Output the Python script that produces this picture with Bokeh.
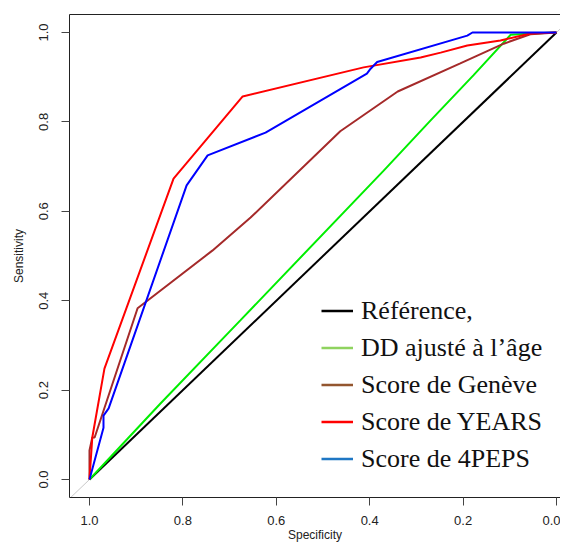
import numpy as np
from bokeh.plotting import figure
from bokeh.models import Range1d, FixedTicker, NumeralTickFormatter, LinearAxis, Legend, LegendItem
from bokeh.core.properties import value
from bokeh.embed import file_html
from bokeh.resources import INLINE

# ---- data (specificity, sensitivity) ----
ref_spec = [1.0, 0.0]
ref_sens = [0.0, 1.0]

dd_spec = [1.0, 0.848, 0.677, 0.370, 0.270, 0.178, 0.098, 0.05, 0.0]
dd_sens = [0.0, 0.170, 0.356, 0.691, 0.803, 0.904, 0.995, 0.998, 1.0]

gen_spec = [1.0, 1.0, 0.994, 0.989, 0.897, 0.737, 0.655, 0.463, 0.340, 0.206, 0.113, 0.056, 0.0]
gen_sens = [0.0, 0.065, 0.094, 0.094, 0.383, 0.512, 0.586, 0.779, 0.868, 0.931, 0.975, 0.996, 1.0]

years_spec = [1.0, 0.994, 0.968, 0.820, 0.672, 0.413, 0.291, 0.248, 0.191, 0.120, 0.056, 0.0]
years_sens = [0.0, 0.094, 0.248, 0.673, 0.857, 0.922, 0.944, 0.955, 0.971, 0.982, 0.998, 1.0]

peps_spec = [1.0, 0.970, 0.970, 0.959, 0.792, 0.747, 0.623, 0.406, 0.398, 0.384, 0.191, 0.180, 0.0]
peps_sens = [0.0, 0.116, 0.143, 0.159, 0.658, 0.725, 0.776, 0.908, 0.919, 0.934, 0.993, 1.0, 1.0]

diag_spec = [1.2, -0.2]
diag_sens = [-0.2, 1.2]

legend_labels = ["Référence,", "DD ajusté à l’âge", "Score de Genève", "Score de YEARS", "Score de 4PEPS"]
legend_colors = ["#000000", "#8fd35f", "#93562f", "#ff0000", "#1f77c4"]

ticks = [0.0, 0.2, 0.4, 0.6, 0.8, 1.0]
x_title = "Specificity"
y_title = "Sensitivity"

p = figure(width=560, height=545, output_backend="svg", toolbar_location=None,
           x_range=Range1d(1.0428, -0.0086), y_range=Range1d(-0.0403, 1.0403),
           min_border_left=69, min_border_top=14, min_border_bottom=48, min_border_right=0)
p.grid.visible = False
p.outline_line_color = None
p.background_fill_color = "white"
p.border_fill_color = "white"

for ax in (p.xaxis[0], p.yaxis[0]):
    ax.ticker = FixedTicker(ticks=ticks)
    ax.formatter = NumeralTickFormatter(format="0.0")
    ax.minor_tick_line_color = None
    ax.major_tick_in = 0
    ax.major_tick_out = 8
    ax.major_tick_line_color = "#444444"
    ax.axis_line_color = "#222222"
    ax.major_label_text_font = "Liberation Sans"
    ax.major_label_text_font_size = "13px"
    ax.major_label_text_color = "#222222"
    ax.axis_label_text_font = "Liberation Sans"
    ax.axis_label_text_font_size = "12px"
    ax.axis_label_text_font_style = "normal"
    ax.axis_label_text_color = "#222222"

p.xaxis.axis_label = x_title
p.yaxis.axis_label = y_title
p.yaxis.major_label_orientation = "vertical"
p.xaxis.major_label_standoff = 10
p.xaxis.axis_label_standoff = 0
p.yaxis.major_label_standoff = 13
p.yaxis.axis_label_standoff = 11

top = LinearAxis(ticker=FixedTicker(ticks=[]), major_label_text_font_size="0px",
                 axis_line_color="#222222", major_tick_line_color=None,
                 minor_tick_line_color=None, major_label_standoff=0)
p.add_layout(top, "above")

p.line(diag_spec, diag_sens, line_color="#c8c8c8", line_width=1)
p.line(ref_spec, ref_sens, line_color="black", line_width=2)
p.line(dd_spec, dd_sens, line_color="#00ee00", line_width=2)
p.line(gen_spec, gen_sens, line_color="#a52a2a", line_width=2)
p.line(years_spec, years_sens, line_color="#ff0000", line_width=2)
p.line(peps_spec, peps_sens, line_color="#0000ff", line_width=2)

items = []
for lab, col in zip(legend_labels, legend_colors):
    r = p.line([np.nan], [np.nan], line_color=col, line_width=2.5)
    items.append(LegendItem(label=value(lab), renderers=[r]))

leg = Legend(items=items, location=(252, 20), orientation="vertical",
             border_line_color=None, background_fill_alpha=0,
             label_text_font="Liberation Serif", label_text_font_size="26px",
             label_text_color="#111111",
             glyph_width=32, glyph_height=37, label_height=37, label_standoff=8,
             spacing=0, padding=0, margin=0)
p.add_layout(leg)

open("out.html", "w").write(file_html(p, INLINE))
